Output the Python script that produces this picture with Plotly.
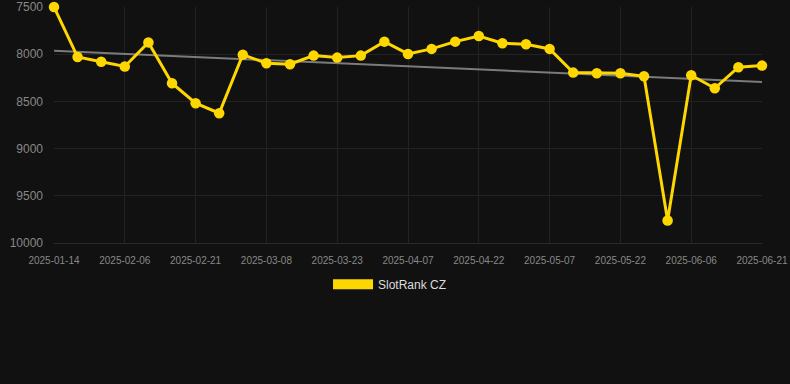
import numpy as np
import plotly.graph_objects as go

dates = ["2025-01-14", "2025-01-22", "2025-01-30", "2025-02-06", "2025-02-11", "2025-02-16",
         "2025-02-21", "2025-02-26", "2025-03-03", "2025-03-08", "2025-03-13", "2025-03-18",
         "2025-03-23", "2025-03-28", "2025-04-02", "2025-04-07", "2025-04-12", "2025-04-17",
         "2025-04-22", "2025-04-27", "2025-05-02", "2025-05-07", "2025-05-12", "2025-05-17",
         "2025-05-22", "2025-05-27", "2025-06-01", "2025-06-06", "2025-06-11", "2025-06-16",
         "2025-06-21"]
ranks = [7500, 8030, 8080, 8130, 7875, 8307, 8519, 8625, 8005, 8096, 8106, 8015,
         8036, 8015, 7867, 7997, 7944, 7867, 7807, 7884, 7895, 7944, 8195, 8202,
         8202, 8234, 9761, 8223, 8361, 8138, 8121]
tick_labels = dates[::3]
y_ticks = [7500, 8000, 8500, 9000, 9500, 10000]
y_tick_text = ["7500", "8000", "8500", "9000", "9500", "10000"]
series_name = "SlotRank CZ"

idx = np.arange(len(ranks))
slope, intercept = np.polyfit(idx, ranks, 1)
trend = slope * idx + intercept

gold = "#FFD700"
fig = go.Figure()
fig.add_trace(go.Scatter(x=dates, y=trend, mode="lines",
                         line=dict(color="rgba(150,150,150,0.8)", width=2),
                         showlegend=False, hoverinfo="skip"))
fig.add_trace(go.Scatter(x=dates, y=ranks, mode="lines+markers", name=series_name,
                         line=dict(color=gold, width=3), marker=dict(color=gold, size=10.5),
                         showlegend=False, cliponaxis=False))
fig.add_trace(go.Scatter(x=[None], y=[None], mode="lines", name=series_name,
                         line=dict(color=gold, width=12), showlegend=True))

fig.update_layout(
    width=790, height=384,
    paper_bgcolor="#111111", plot_bgcolor="#111111",
    margin=dict(l=54, r=28, t=7, b=141, autoexpand=False),
    font=dict(family="Liberation Sans, Arial, sans-serif", color="#888888"),
    legend=dict(orientation="h", xref="container", x=0.4937, xanchor="center", y=-0.113,
                yanchor="top", itemwidth=40, font=dict(size=12, color="#dddddd")),
    xaxis=dict(type="category", range=[0, len(dates) - 1], tickmode="array",
               tickvals=tick_labels, ticktext=tick_labels, tickfont=dict(size=10, color="#888888"),
               showgrid=True, gridcolor="#222222", zeroline=False, showline=True,
               linecolor="#2a2a2a", ticklabelstandoff=8, tickangle=0, automargin=False),
    yaxis=dict(range=[10000, 7500], tickmode="array", tickvals=y_ticks, ticktext=y_tick_text,
               tickfont=dict(size=12, color="#888888"), showgrid=True, gridcolor="#222222",
               zeroline=False, ticklabelstandoff=10, automargin=False),
)
fig.write_html("out.html", config={"displayModeBar": False},
               post_script="document.body.style.margin='0';document.body.style.background='#111111';")
